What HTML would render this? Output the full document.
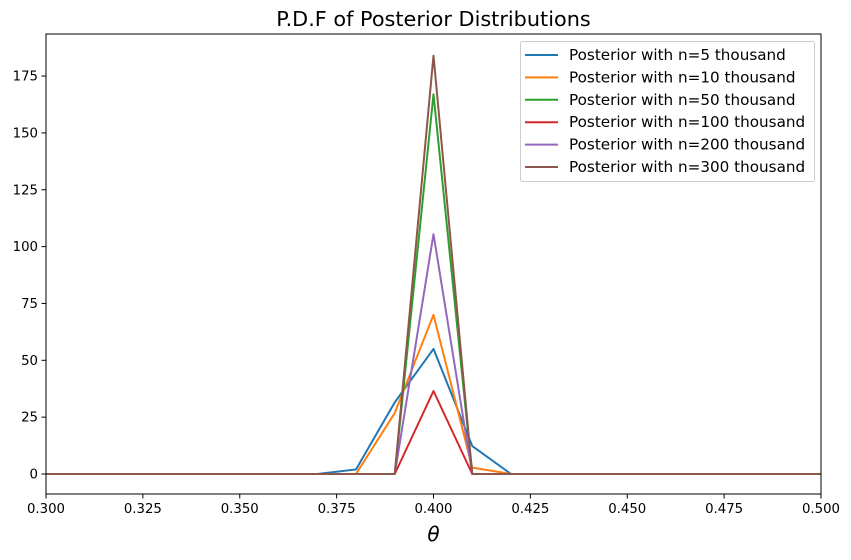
<!DOCTYPE html>
<html><head><meta charset="utf-8"><style>
body{margin:0;background:#fff;}
svg{font-family:"DejaVu Sans","Liberation Sans",sans-serif;}
</style></head><body>
<svg id="chart" width="851" height="555" xmlns="http://www.w3.org/2000/svg">
<text x="433.5" y="26" text-anchor="middle" font-size="20.8" fill="#000">P.D.F of Posterior Distributions</text>
<g id="xticks"></g><g id="yticks"></g><g id="series"></g>
<rect x="46" y="34" width="775" height="460" fill="none" stroke="#000" stroke-width="1"/>
<text x="433.5" y="541" text-anchor="middle" font-size="20" font-style="italic">θ</text>
<g id="legend"></g>
</svg>
<script>
const xValues = [0.30,0.31,0.32,0.33,0.34,0.35,0.36,0.37,0.38,0.39,0.40,0.41,0.42,0.43,0.44,0.45,0.46,0.47,0.48,0.49,0.50];
const seriesNames = ["Posterior with n=5 thousand","Posterior with n=10 thousand","Posterior with n=50 thousand","Posterior with n=100 thousand","Posterior with n=200 thousand","Posterior with n=300 thousand"];
const s5   = [0,0,0,0,0,0,0,0,2,31.5,55,12.3,0,0,0,0,0,0,0,0,0];
const s10  = [0,0,0,0,0,0,0,0,0,26.8,70,2.8,0,0,0,0,0,0,0,0,0];
const s50  = [0,0,0,0,0,0,0,0,0,0,167,0,0,0,0,0,0,0,0,0,0];
const s100 = [0,0,0,0,0,0,0,0,0,0,36.5,0,0,0,0,0,0,0,0,0,0];
const s200 = [0,0,0,0,0,0,0,0,0,0,105.5,0,0,0,0,0,0,0,0,0,0];
const s300 = [0,0,0,0,0,0,0,0,0,0,184,0,0,0,0,0,0,0,0,0,0];
const xTickLabels = ["0.300","0.325","0.350","0.375","0.400","0.425","0.450","0.475","0.500"];
const yTickLabels = ["0","25","50","75","100","125","150","175"];
const colors = ["#1f77b4","#ff7f0e","#2ca02c","#d62728","#9467bd","#8c564b"];
const allSeries = [s5,s10,s50,s100,s200,s300];

const L=46,R=821,T=34,B=494;
const xMin=0.3,xMax=0.5,yMin=-8.8,yMax=193.5;
const xs=v=>L+(v-xMin)/(xMax-xMin)*(R-L);
const ys=v=>B-(v-yMin)/(yMax-yMin)*(B-T);
const NS="http://www.w3.org/2000/svg";
function mk(tag,attrs,parent){const e=document.createElementNS(NS,tag);for(const k in attrs)e.setAttribute(k,attrs[k]);parent.appendChild(e);return e;}

const gx=document.getElementById('xticks');
xTickLabels.forEach(l=>{const x=xs(parseFloat(l));
  const t=mk('line',{x1:x,x2:x,y1:B,y2:B+4.5,stroke:'#000'},gx);
  
  
  const tx=mk('text',{x:x,y:B+19,'text-anchor':'middle','font-size':'13.3'},gx);tx.textContent=l;
  
  
});
const gy=document.getElementById('yticks');
yTickLabels.forEach(l=>{const y=ys(parseFloat(l));
  const t=mk('line',{x1:L-4.5,x2:L,y1:y,y2:y,stroke:'#000'},gy);
  
  
  const tx=mk('text',{x:L-8,y:y+4.5,'text-anchor':'end','font-size':'13.3'},gy);tx.textContent=l;
  
  
});
const gs=document.getElementById('series');
allSeries.forEach((s,i)=>{
  const pts=s.map((v,j)=>xs(xValues[j]).toFixed(2)+','+ys(v).toFixed(2)).join(' ');
  const p=mk('polyline',{points:pts,fill:'none',stroke:colors[i],'stroke-width':'2','stroke-linejoin':'round'},gs);
  
  
});
const lg=document.getElementById('legend');
const box=mk('rect',{x:520.5,y:41.5,width:294,height:140,rx:2,fill:'#fff','fill-opacity':'0.8',stroke:'#ccc'},lg);


seriesNames.forEach((n,i)=>{const y=55+i*22.4;
  const ln=mk('line',{x1:525,x2:558,y1:y,y2:y,stroke:colors[i],'stroke-width':'2'},lg);
  
  
  const tx=mk('text',{x:569,y:y+5,'font-size':'15.2'},lg);tx.textContent=n;
  
  
});
</script>
</body></html>
